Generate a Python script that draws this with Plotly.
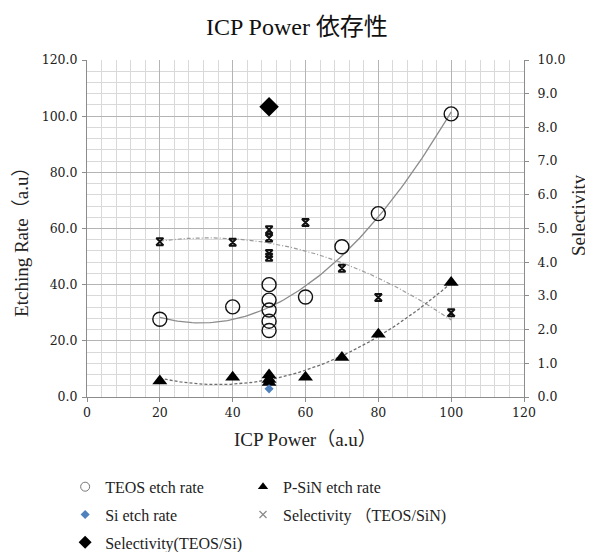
import numpy as np
import plotly.graph_objects as go

# ---- data ----
teos_x = [20, 40, 50, 50, 50, 50, 50, 60, 70, 80, 100]
teos_y = [27.7, 32.1, 40.0, 34.5, 31.0, 27.0, 23.7, 35.6, 53.5, 65.3, 100.8]

sin_x = [20, 40, 50, 50, 50, 60, 70, 80, 100]
sin_y = [5.7, 7.0, 7.8, 6.2, 5.2, 7.0, 14.1, 22.3, 40.8]

si_x = [50]
si_y = [2.9]

sel_sin_x = [20, 40, 50, 50, 50, 50, 60, 70, 80, 100]
sel_sin_y = [4.61, 4.59, 4.96, 4.72, 4.26, 4.15, 5.18, 3.82, 2.95, 2.50]

sel_si_x = [50]
sel_si_y = [8.61]

series_names = ["TEOS etch rate", "P-SiN etch rate", "Si etch rate",
                "Selectivity （TEOS/SiN)", "Selectivity(TEOS/Si)"]
title_text = "ICP Power 依存性"
x_title = "ICP Power（a.u）"
y_title = "Etching Rate（a.u）"
y2_title = "Selectivity"

serif = "'Liberation Serif', 'Noto Sans CJK JP', serif"
tick_font = "'DejaVu Serif', 'Liberation Serif', serif"
txt = "#222222"


def poly_trend(x, y, deg=2):
    c = np.polyfit(x, y, deg)
    xs = np.linspace(min(x), max(x), 100)
    return xs, np.polyval(c, xs)


fig = go.Figure()

# trendlines (polynomial order 2, like Excel)
tx, ty = poly_trend(teos_x, teos_y)
fig.add_trace(go.Scatter(x=tx, y=ty, mode="lines", showlegend=False, hoverinfo="skip",
                         line=dict(color="#8c8c8c", width=1.3)))
sx, sy = poly_trend(sin_x, sin_y)
fig.add_trace(go.Scatter(x=sx, y=sy, mode="lines", showlegend=False, hoverinfo="skip",
                         line=dict(color="#6e6e6e", width=1.3, dash="3px,2px")))
rx, ry = poly_trend(sel_sin_x, sel_sin_y)
fig.add_trace(go.Scatter(x=rx, y=ry, mode="lines", showlegend=False, hoverinfo="skip",
                         yaxis="y2", line=dict(color="#9a9a9a", width=1.2, dash="4px,2px,1px,2px")))

# markers (data)
fig.add_trace(go.Scatter(x=teos_x, y=teos_y, mode="markers", name=series_names[0], showlegend=False,
                         marker=dict(symbol="circle-open", size=14, color="#111111",
                                     line=dict(width=1.4, color="#111111"))))
fig.add_trace(go.Scatter(x=sin_x, y=sin_y, mode="markers", name=series_names[1], showlegend=False,
                         marker=dict(symbol="triangle-up", size=13, color="#000000")))
fig.add_trace(go.Scatter(x=si_x, y=si_y, mode="markers", name=series_names[2], showlegend=False,
                         marker=dict(symbol="diamond", size=7, color="#4f81bd")))
fig.add_trace(go.Scatter(x=sel_sin_x, y=sel_sin_y, mode="markers", yaxis="y2",
                         name=series_names[3], showlegend=False,
                         marker=dict(symbol="hourglass-open", size=7, color="#111111",
                                     line=dict(width=2, color="#111111"))))
fig.add_trace(go.Scatter(x=sel_si_x, y=sel_si_y, mode="markers", yaxis="y2",
                         name=series_names[4], showlegend=False,
                         marker=dict(symbol="diamond", size=15, color="#000000")))

# legend entries (small symbols, as in the reference legend), two columns
legend_markers = [
    dict(symbol="circle-open", size=9, color="#777777", line=dict(width=1, color="#777777")),
    dict(symbol="triangle-up", size=9, color="#000000"),
    dict(symbol="diamond", size=7, color="#4f81bd"),
    dict(symbol="x-thin-open", size=7, color="#888888", line=dict(width=1.2, color="#888888")),
    dict(symbol="diamond", size=10, color="#000000"),
]
legend_column = ["legend", "legend2", "legend", "legend2", "legend"]
for i, (nm, mk, lg) in enumerate(zip(series_names, legend_markers, legend_column)):
    fig.add_trace(go.Scatter(x=[None], y=[None], mode="markers", name=nm, marker=mk,
                             legend=lg, legendgroup=f"g{i}", hoverinfo="skip"))

axis_common = dict(showline=True, linecolor="#8c8c8c", ticks="outside", ticklen=4,
                   tickcolor="#8c8c8c", zeroline=False, automargin=False,
                   tickfont=dict(family=tick_font, size=12.5, color=txt))

legend_common = dict(orientation="v", yanchor="top", xanchor="left", itemwidth=30,
                     tracegroupgap=4, font=dict(family=serif, size=16, color=txt),
                     bgcolor="rgba(0,0,0,0)")

fig.update_layout(
    width=585, height=544,
    margin=dict(l=79, r=69, t=52, b=155, autoexpand=False),
    paper_bgcolor="white", plot_bgcolor="white",
    font=dict(family=serif, size=13, color=txt),
    title=dict(text=title_text, x=0.494, xref="container", y=0.966, yref="container",
               xanchor="center", yanchor="middle",
               font=dict(family=serif, size=24, color="#111111")),
    xaxis=dict(range=[0, 120], dtick=20, tick0=0, showgrid=True, gridcolor="#b4b4b4", gridwidth=1,
               minor=dict(dtick=4, showgrid=True, gridcolor="#d9d9d9", gridwidth=1),
               **axis_common),
    yaxis=dict(range=[0, 120], dtick=20, tick0=0, tickformat=".1f", showgrid=True,
               gridcolor="#b4b4b4", gridwidth=1, ticklabelstandoff=2,
               minor=dict(dtick=4, showgrid=True, gridcolor="#d9d9d9", gridwidth=1),
               **axis_common),
    yaxis2=dict(range=[0, 10], dtick=1, tick0=0, tickformat=".1f", overlaying="y", side="right",
                showgrid=False, ticklabelstandoff=6, **axis_common),
    annotations=[
        dict(text=x_title, xref="paper", yref="paper", x=0.5, y=0, yshift=-42,
             showarrow=False, xanchor="center", yanchor="middle",
             font=dict(family=serif, size=19, color=txt)),
        dict(text=y_title, xref="paper", yref="paper", x=0, y=0.472, xshift=-65,
             showarrow=False, textangle=-90, xanchor="center", yanchor="middle",
             font=dict(family=serif, size=19, color=txt)),
        dict(text=y2_title, xref="paper", yref="paper", x=1.0, y=0.54, xshift=54,
             showarrow=False, textangle=-90, xanchor="center", yanchor="middle",
             font=dict(family=serif, size=19, color=txt)),
    ],
    legend=dict(x=-0.050, y=-0.216, **legend_common),
    legend2=dict(x=0.357, y=-0.216, **legend_common),
    showlegend=True,
)

fig.write_html("out.html")
